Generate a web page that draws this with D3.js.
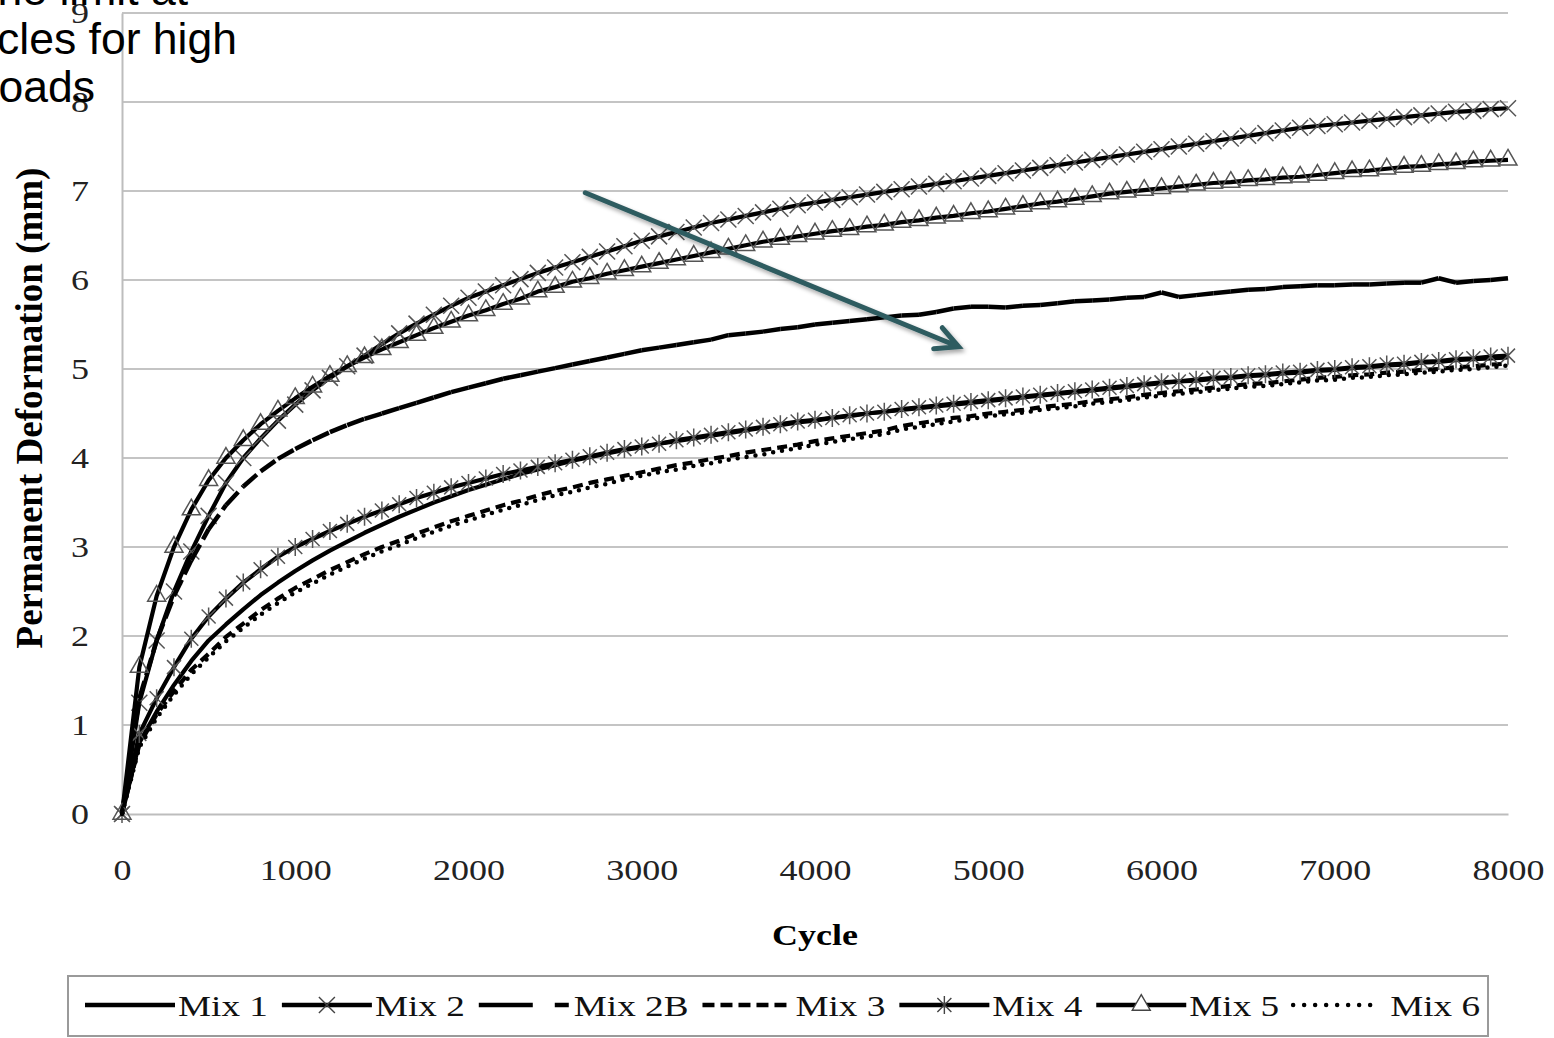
<!DOCTYPE html>
<html>
<head>
<meta charset="utf-8">
<script src="https://cdn.jsdelivr.net/npm/d3@7"></script>
<style>
  body { margin: 0; background: #fff; }
  svg { display: block; }
</style>
</head>
<body>
<svg id="chart" width="1554" height="1038"></svg>
<script>
// readings every 100 cycles, 0 .. 8000
var cycleStep = 100;

var mix1 = [0,0.8,1.15,1.45,1.72,1.95,2.13,2.3,2.46,2.6,
  2.73,2.85,2.96,3.06,3.16,3.25,3.34,3.42,3.5,3.57,
  3.64,3.7,3.76,3.82,3.87,3.92,3.97,4.01,4.05,4.09,
  4.12,4.16,4.19,4.22,4.25,4.28,4.31,4.34,4.37,4.4,
  4.42,4.45,4.47,4.5,4.52,4.54,4.56,4.58,4.6,4.62,
  4.64,4.66,4.68,4.7,4.72,4.74,4.76,4.78,4.8,4.82,
  4.84,4.86,4.87,4.89,4.9,4.92,4.93,4.95,4.96,4.98,
  4.99,5.01,5.02,5.04,5.05,5.07,5.08,5.1,5.11,5.12,
  5.13];

var mix2 = [0,1.25,1.95,2.5,2.95,3.35,3.72,4.0,4.22,4.42,
  4.6,4.76,4.9,5.03,5.15,5.28,5.4,5.51,5.61,5.71,
  5.8,5.87,5.94,6.01,6.08,6.14,6.2,6.26,6.32,6.38,
  6.44,6.49,6.54,6.59,6.64,6.68,6.72,6.76,6.8,6.84,
  6.87,6.9,6.93,6.96,6.99,7.02,7.05,7.08,7.11,7.14,
  7.17,7.2,7.23,7.26,7.29,7.32,7.35,7.38,7.41,7.44,
  7.47,7.5,7.53,7.56,7.59,7.62,7.65,7.68,7.71,7.73,
  7.75,7.77,7.79,7.81,7.83,7.85,7.87,7.89,7.9,7.92,
  7.93];

var mix2b = [0,1.3,1.95,2.45,2.85,3.2,3.47,3.68,3.85,3.99,
  4.1,4.2,4.29,4.37,4.44,4.5,4.56,4.62,4.68,4.74,
  4.79,4.84,4.89,4.93,4.97,5.01,5.05,5.09,5.13,5.17,
  5.21,5.24,5.27,5.3,5.33,5.38,5.4,5.42,5.45,5.47,
  5.5,5.52,5.54,5.56,5.58,5.6,5.61,5.64,5.68,5.7,
  5.7,5.69,5.71,5.72,5.74,5.76,5.77,5.78,5.8,5.81,
  5.86,5.81,5.83,5.85,5.87,5.89,5.9,5.92,5.93,5.94,
  5.94,5.95,5.95,5.96,5.97,5.97,6.02,5.97,5.99,6.0,
  6.02];

var mix3 = [0,0.78,1.12,1.38,1.62,1.8,1.99,2.14,2.29,2.42,
  2.54,2.64,2.74,2.83,2.92,3.0,3.07,3.15,3.22,3.29,
  3.35,3.41,3.47,3.52,3.58,3.63,3.67,3.72,3.76,3.8,
  3.84,3.88,3.92,3.95,3.99,4.02,4.06,4.09,4.12,4.15,
  4.19,4.22,4.25,4.28,4.31,4.36,4.39,4.42,4.45,4.47,
  4.5,4.52,4.54,4.57,4.59,4.61,4.64,4.66,4.68,4.71,
  4.73,4.75,4.77,4.79,4.81,4.83,4.84,4.86,4.88,4.9,
  4.91,4.93,4.94,4.96,4.97,4.99,5.0,5.02,5.03,5.05,
  5.06];

var mix4 = [0,0.9,1.3,1.65,1.97,2.22,2.42,2.6,2.75,2.89,
  3.0,3.09,3.18,3.26,3.34,3.41,3.48,3.55,3.61,3.67,
  3.72,3.77,3.82,3.86,3.9,3.94,3.98,4.02,4.06,4.1,
  4.13,4.16,4.2,4.23,4.26,4.29,4.32,4.35,4.38,4.41,
  4.43,4.45,4.48,4.5,4.52,4.55,4.57,4.59,4.61,4.63,
  4.65,4.67,4.69,4.71,4.73,4.75,4.77,4.79,4.81,4.83,
  4.85,4.86,4.88,4.9,4.91,4.93,4.94,4.96,4.97,4.99,
  5.0,5.02,5.03,5.05,5.06,5.08,5.09,5.11,5.12,5.14,
  5.15];

var mix5 = [0,1.65,2.45,3.0,3.42,3.75,4.0,4.2,4.38,4.53,
  4.67,4.8,4.92,5.03,5.13,5.22,5.3,5.38,5.46,5.53,
  5.6,5.66,5.73,5.79,5.87,5.92,5.98,6.02,6.07,6.11,
  6.15,6.19,6.23,6.27,6.31,6.35,6.39,6.43,6.46,6.49,
  6.52,6.55,6.57,6.6,6.62,6.65,6.67,6.7,6.72,6.75,
  6.77,6.8,6.83,6.86,6.88,6.91,6.94,6.97,6.99,7.01,
  7.03,7.05,7.07,7.09,7.1,7.12,7.13,7.15,7.16,7.18,
  7.2,7.22,7.23,7.25,7.27,7.28,7.3,7.31,7.33,7.34,
  7.35];

var mix6 = [0,0.75,1.08,1.34,1.57,1.76,1.94,2.09,2.24,2.37,
  2.49,2.59,2.69,2.78,2.87,2.95,3.02,3.1,3.17,3.24,
  3.3,3.36,3.42,3.47,3.53,3.58,3.62,3.67,3.71,3.76,
  3.8,3.84,3.87,3.91,3.94,3.98,4.01,4.04,4.08,4.11,
  4.15,4.18,4.21,4.24,4.27,4.32,4.35,4.38,4.41,4.44,
  4.47,4.49,4.51,4.54,4.56,4.58,4.61,4.63,4.65,4.68,
  4.7,4.72,4.74,4.76,4.78,4.8,4.81,4.83,4.85,4.87,
  4.88,4.9,4.91,4.93,4.94,4.96,4.97,4.99,5.0,5.02,
  5.04];

var seriesNames = ["Mix 1", "Mix 2", "Mix 2B", "Mix 3", "Mix 4", "Mix 5", "Mix 6"];
var xTicks = [0, 1000, 2000, 3000, 4000, 5000, 6000, 7000, 8000];
var yTicks = [0, 1, 2, 3, 4, 5, 6, 7, 8, 9];

// annotations
var limitValue = 5.06;
var arrowFrom = [2674, 6.98];
var arrowTo = [4829, 5.25];
var noteLines = ["ne limit at", "cycles for high", "loads"];

var serif = "'Liberation Serif', 'Times New Roman', serif";
var sans = "'Liberation Sans', Arial, sans-serif";
var stretch = "scale(1.2,1)";

var svg = d3.select("#chart");
var x = d3.scaleLinear().domain([0, 8000]).range([122, 1508]);
var y = d3.scaleLinear().domain([0, 9]).range([814, 13]);

var defs = svg.append("defs");
var shadow = defs.append("filter").attr("id", "shadow")
  .attr("x", "-5%").attr("y", "-50%").attr("width", "110%").attr("height", "300%");
shadow.append("feDropShadow").attr("dx", 2).attr("dy", 3).attr("stdDeviation", 2)
  .attr("flood-color", "#000").attr("flood-opacity", 0.35);

/* grid */
svg.append("g").selectAll("line")
  .data(yTicks.filter(function(t) { return t > 0; }))
  .enter().append("line")
  .attr("x1", x(0)).attr("x2", x(8000))
  .attr("y1", function(d) { return y(d); }).attr("y2", function(d) { return y(d); })
  .attr("stroke", "#c4c4c4").attr("stroke-width", 2);

/* axes */
var xAxis = svg.append("g").attr("transform", "translate(0," + y(0) + ")")
  .call(d3.axisBottom(x).tickValues(xTicks).tickSize(0).tickFormat(d3.format("d")));
xAxis.select(".domain").attr("stroke", "#bdbdbd").attr("stroke-width", 2);
xAxis.selectAll("text").attr("y", 45).attr("transform", stretch)
  .style("font-family", serif).style("font-size", "30px").attr("fill", "#222");

var yAxis = svg.append("g").attr("transform", "translate(" + x(0) + ",0)")
  .call(d3.axisLeft(y).tickValues(yTicks).tickSize(0));
yAxis.select(".domain").attr("stroke", "#bdbdbd").attr("stroke-width", 2);
yAxis.selectAll("text").attr("x", 0).attr("transform", "translate(-33,0) " + stretch)
  .style("font-family", serif).style("font-size", "30px").attr("fill", "#222");

svg.append("text")
  .attr("transform", "translate(" + x(4000) + ",945) " + stretch)
  .attr("text-anchor", "middle")
  .style("font-family", serif).style("font-size", "30px").style("font-weight", "bold")
  .text("Cycle");

svg.append("text")
  .attr("transform", "translate(42,408) rotate(-90)")
  .attr("text-anchor", "middle")
  .style("font-family", serif).style("font-size", "37px").style("font-weight", "bold")
  .text("Permanent Deformation (mm)");

/* series */
function toPoints(vals) {
  return vals.map(function(v, i) { return [i * cycleStep, v]; });
}

function markerPath(kind) {
  if (kind === "x") return "M-8,-8L8,8M-8,8L8,-8";
  if (kind === "star") return "M-7,-7L7,7M-7,7L7,-7M0,-9L0,9";
  if (kind === "tri") return d3.symbol().type(d3.symbolTriangle).size(140)();
  return null;
}

var series = [
  { name: seriesNames[0], values: mix1, dash: null, marker: null },
  { name: seriesNames[1], values: mix2, dash: null, marker: "x" },
  { name: seriesNames[2], values: mix2b, dash: "18,6", perSegment: true, marker: null },
  { name: seriesNames[3], values: mix3, dash: "10,6", marker: null },
  { name: seriesNames[4], values: mix4, dash: null, marker: "star" },
  { name: seriesNames[5], values: mix5, dash: null, marker: "tri" },
  { name: seriesNames[6], values: mix6, dash: "0,9", round: true, marker: null }
];

var line = d3.line()
  .x(function(d) { return x(d[0]); })
  .y(function(d) { return y(d[1]); });

var plot = svg.append("g");

series.forEach(function(s) {
  var pts = toPoints(s.values);
  var g = plot.append("g");
  if (s.perSegment) {
    // dash pattern restarts on every segment, like the original
    g.selectAll("line").data(d3.pairs(pts)).enter().append("line")
      .attr("x1", function(d) { return x(d[0][0]); })
      .attr("y1", function(d) { return y(d[0][1]); })
      .attr("x2", function(d) { return x(d[1][0]); })
      .attr("y2", function(d) { return y(d[1][1]); })
      .attr("stroke", "#000").attr("stroke-width", 4.5)
      .attr("stroke-dasharray", s.dash);
  } else {
    g.append("path").datum(pts)
      .attr("d", line)
      .attr("fill", "none")
      .attr("stroke", "#000")
      .attr("stroke-width", s.round ? 4.5 : 4.2)
      .attr("stroke-linejoin", "round")
      .attr("stroke-linecap", s.round ? "round" : "butt")
      .attr("stroke-dasharray", s.dash);
  }
  if (s.marker) {
    g.selectAll("path.mk").data(pts).enter().append("path")
      .attr("class", "mk")
      .attr("transform", function(d) { return "translate(" + x(d[0]) + "," + y(d[1]) + ")"; })
      .attr("d", markerPath(s.marker))
      .attr("fill", "none")
      .attr("stroke", "#555")
      .attr("stroke-width", 1.5);
  }
});

/* limit line and arrow */
svg.append("line")
  .attr("x1", x(0)).attr("x2", x(8000) + 14)
  .attr("y1", y(limitValue)).attr("y2", y(limitValue))
  .attr("stroke", "#c00000").attr("stroke-width", 7)
  .attr("filter", "url(#shadow)");

var ax0 = x(arrowFrom[0]), ay0 = y(arrowFrom[1]);
var ax1 = x(arrowTo[0]), ay1 = y(arrowTo[1]);
var ang = Math.atan2(ay1 - ay0, ax1 - ax0);
var head = 25, spread = 27 * Math.PI / 180;
var ap = d3.path();
ap.moveTo(ax0, ay0);
ap.lineTo(ax1, ay1);
ap.moveTo(ax1 - head * Math.cos(ang - spread), ay1 - head * Math.sin(ang - spread));
ap.lineTo(ax1, ay1);
ap.lineTo(ax1 - head * Math.cos(ang + spread), ay1 - head * Math.sin(ang + spread));
svg.append("path")
  .attr("d", ap.toString())
  .attr("fill", "none")
  .attr("stroke", "#2f5b60")
  .attr("stroke-width", 5)
  .attr("stroke-linecap", "round")
  .attr("stroke-linejoin", "miter")
  .attr("filter", "url(#shadow)");

/* legend */
var legend = svg.append("g");
legend.append("rect")
  .attr("x", 68).attr("y", 976).attr("width", 1420).attr("height", 60)
  .attr("fill", "#fff").attr("stroke", "#9a9a9a").attr("stroke-width", 2);

var legendStretch = "scale(1.24,1)";
var lx = 85, ly = 1005;
series.forEach(function(s, i) {
  var symLen = s.round ? 82 : 90;
  if (s.perSegment) symLen = 92;
  var g = legend.append("g");
  var l = g.append("line")
    .attr("x1", lx).attr("x2", lx + symLen).attr("y1", ly).attr("y2", ly)
    .attr("stroke", "#000").attr("stroke-width", 4.5)
    .attr("stroke-linecap", "butt");
  if (s.perSegment) l.attr("stroke-dasharray", "54,22,14,60");
  else if (s.round) l.attr("stroke-dasharray", "0,11").attr("stroke-linecap", "round");
  else if (s.dash) l.attr("stroke-dasharray", "12,6");
  if (s.marker) {
    g.append("path")
      .attr("transform", "translate(" + (lx + symLen / 2) + "," + ly + ")")
      .attr("d", markerPath(s.marker))
      .attr("fill", s.marker === "tri" ? "#fff" : "none")
      .attr("stroke", "#444").attr("stroke-width", 1.4);
  }
  var tx = lx + symLen + (s.round ? 15 : 3);
  var t = g.append("text")
    .attr("transform", "translate(" + tx + "," + (ly + 11) + ") " + legendStretch)
    .style("font-family", serif).style("font-size", "30px")
    .attr("fill", "#111")
    .text(s.name);
  lx = tx + t.node().getComputedTextLength() * 1.24 + 14;
});

/* overlaid note text, cut by the left and top edges */
var noteEnds = [188, 237, 95];
svg.append("g").selectAll("text")
  .data(noteLines)
  .enter().append("text")
  .attr("x", function(d, i) { return noteEnds[i]; })
  .attr("y", function(d, i) { return 5 + i * 48.5; })
  .attr("text-anchor", "end")
  .style("font-family", sans).style("font-size", "44.5px")
  .attr("fill", "#000")
  .text(function(d) { return d; });
</script>
</body>
</html>
